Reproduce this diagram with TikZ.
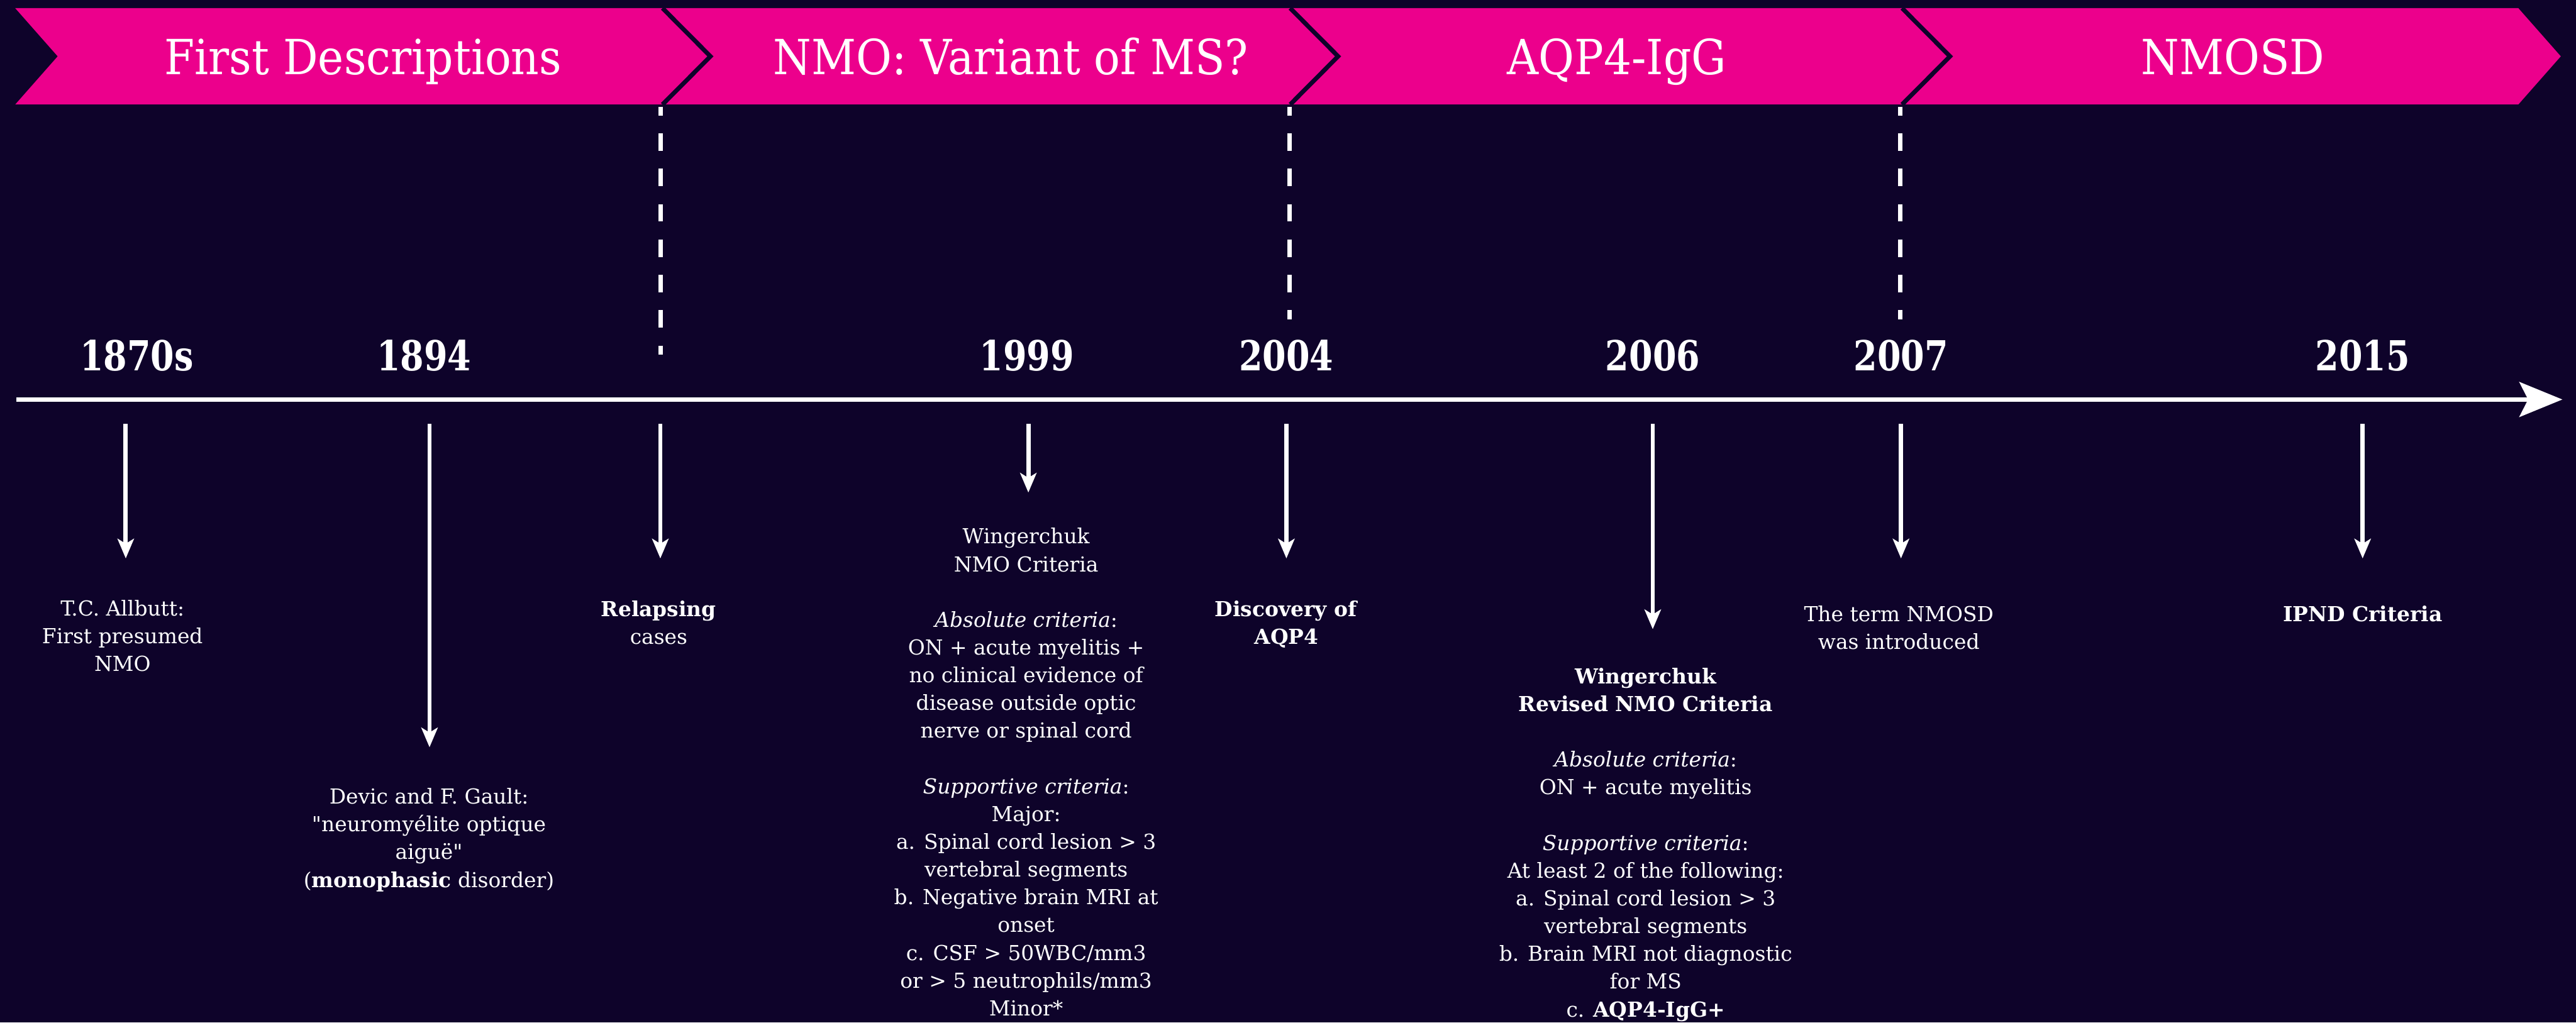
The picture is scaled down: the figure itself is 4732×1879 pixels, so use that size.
\documentclass[tikz,border=0pt]{standalone}
\usepackage{fontspec}
\setmainfont{DejaVu Serif}[Ligatures=TeXOff]
\newfontfamily\yearfont{DejaVu Serif}[FakeStretch=0.82]
\newfontfamily\headfont{DejaVu Serif}[FakeStretch=0.9]
\usetikzlibrary{arrows.meta}
\definecolor{bgnavy}{RGB}{14,3,42}
\definecolor{bandpink}{RGB}{236,0,140}
\newcommand\firststrut{\rule{0pt}{30pt}}
\tikzset{
  band/.style={fill=bandpink},
  sepline/.style={draw=bgnavy,line width=8pt,line join=miter},
  headtext/.style={text=white,font=\headfont\fontsize{89}{100}\selectfont,anchor=base,inner sep=0pt},
  yeartext/.style={text=white,font=\yearfont\bfseries\fontsize{76}{80}\selectfont,anchor=base,inner sep=0pt},
  desc/.style={text=white,font=\fontsize{38}{51}\selectfont,align=center,anchor=north,inner sep=0pt},
  axisline/.style={white,line width=8pt,-{Stealth[length=79pt,width=64pt,inset=16pt]}},
  downarrow/.style={white,line width=8pt,-{Stealth[length=36pt,width=30pt,inset=9pt]}},
  eraline/.style={white,line width=8pt,dash pattern=on 32pt off 33pt,dash phase=16pt},
}
\begin{document}
\begin{tikzpicture}[x=1pt,y=-1pt]
\fill[bgnavy] (0,0) rectangle (4732,1879);
\useasboundingbox (0,0) rectangle (4732,1879);

% chevron band
\path[band] (28,15) -- (1217,15) -- (1305,103.5) -- (1217,192) -- (28,192) -- (106,103.5) -- cycle;
\path[band] (1217,15) -- (2370,15) -- (2458,103.5) -- (2370,192) -- (1217,192) -- (1305,103.5) -- cycle;
\path[band] (2370,15) -- (3494,15) -- (3582,103.5) -- (3494,192) -- (2370,192) -- (2458,103.5) -- cycle;
\path[band] (3494,15) -- (4626,15) -- (4704,103.5) -- (4626,192) -- (3494,192) -- (3582,103.5) -- cycle;
\draw[sepline] (1217,15) -- (1305,103.5) -- (1217,192);
\draw[sepline] (2370,15) -- (2458,103.5) -- (2370,192);
\draw[sepline] (3494,15) -- (3582,103.5) -- (3494,192);

\node[headtext] (h1) at (667,137) {First Descriptions};
\node[headtext] (h2) at (1857,137) {NMO: Variant of MS?};
\node[headtext] (h3) at (2970,137) {AQP4-IgG};
\node[headtext] (h4) at (4102,137) {NMOSD};

% era dashed lines
\coordinate (d1a) at (1214,196); \coordinate (d1b) at (1214,652);
\coordinate (d2a) at (2369,196); \coordinate (d2b) at (2369,587);
\coordinate (d3a) at (3491,196); \coordinate (d3b) at (3491,587);
\draw[eraline] (d1a) -- (d1b);
\draw[eraline] (d2a) -- (d2b);
\draw[eraline] (d3a) -- (d3b);

% years
\node[yeartext] (y1870) at (251,681) {1870s};
\node[yeartext] (y1894) at (779,681) {1894};
\node[yeartext] (y1999) at (1886,681) {1999};
\node[yeartext] (y2004) at (2363,681) {2004};
\node[yeartext] (y2006) at (3036,681) {2006};
\node[yeartext] (y2007) at (3492,681) {2007};
\node[yeartext] (y2015) at (4340,681) {2015};

% axis
\coordinate (axs) at (30,734);
\coordinate (axe) at (4707,734);
\draw[axisline] (axs) -- (axe);

% down arrows
\coordinate (s1870) at (231,779);  \coordinate (e1870) at (231,1026);
\coordinate (s1894) at (789,779);  \coordinate (e1894) at (789,1373);
\coordinate (srel)  at (1213,779); \coordinate (erel)  at (1213,1026);
\coordinate (s1999) at (1889,779); \coordinate (e1999) at (1889,905);
\coordinate (s2004) at (2363,779); \coordinate (e2004) at (2363,1026);
\coordinate (s2006) at (3036,779); \coordinate (e2006) at (3036,1156);
\coordinate (s2007) at (3492,779); \coordinate (e2007) at (3492,1026);
\coordinate (s2015) at (4340,779); \coordinate (e2015) at (4340,1026);
\draw[downarrow] (s1870) -- (e1870);
\draw[downarrow] (s1894) -- (e1894);
\draw[downarrow] (srel) -- (erel);
\draw[downarrow] (s1999) -- (e1999);
\draw[downarrow] (s2004) -- (e2004);
\draw[downarrow] (s2006) -- (e2006);
\draw[downarrow] (s2007) -- (e2007);
\draw[downarrow] (s2015) -- (e2015);

% descriptions (node top = first baseline - 30)
\node[desc] (t1870) at (225,1101) {\firststrut T.C. Allbutt:\\First presumed\\NMO};
\node[desc] (t1894) at (788,1447) {\firststrut Devic and F. Gault:\\"neuromyélite optique\\aiguë"\\(\textbf{monophasic} disorder)};
\node[desc] (trel) at (1210,1102) {\firststrut\textbf{Relapsing}\\cases};
\node[desc] (t1999) at (1885,969) {\firststrut Wingerchuk\\NMO Criteria\\[51pt]\textit{Absolute criteria}:\\ON + acute myelitis +\\no clinical evidence of\\disease outside optic\\nerve or spinal cord\\[51pt]\textit{Supportive criteria}:\\Major:\\a. Spinal cord lesion > 3\\vertebral segments\\b. Negative brain MRI at\\onset\\c. CSF > 50WBC/mm3\\or > 5 neutrophils/mm3\\Minor*};
\node[desc] (t2004) at (2363,1102) {\firststrut\textbf{Discovery of}\\\textbf{AQP4}};
\node[desc] (t2006) at (3023,1226) {\firststrut\textbf{Wingerchuk}\\\textbf{Revised NMO Criteria}\\[51pt]\textit{Absolute criteria}:\\ON + acute myelitis\\[51pt]\textit{Supportive criteria}:\\At least 2 of the following:\\a. Spinal cord lesion > 3\\vertebral segments\\b. Brain MRI not diagnostic\\for MS\\c. \textbf{AQP4-IgG+}};
\node[desc] (t2007) at (3488,1112) {\firststrut The term NMOSD\\was introduced};
\node[desc] (t2015) at (4340,1112) {\firststrut\textbf{IPND Criteria}};
\end{tikzpicture}
\end{document}
